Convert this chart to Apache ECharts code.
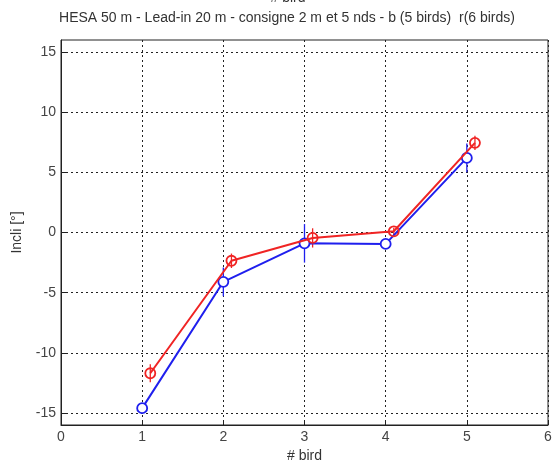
<!DOCTYPE html>
<html>
<head>
<meta charset="utf-8">
<script src="https://cdn.jsdelivr.net/npm/echarts@6/dist/echarts.min.js"></script>
<style>
  html, body { margin: 0; padding: 0; background: #fff; }
  #chart { width: 559px; height: 462px; }
</style>
</head>
<body>
<div id="chart"></div>
<script>
// Bird inclination per bird index, two configurations
var titleText = 'HESA 50 m - Lead-in 20 m - consigne 2 m et 5 nds - b (5 birds)  r(6 birds)';
var xTicks = [0, 1, 2, 3, 4, 5, 6];
var yTicks = [-15, -10, -5, 0, 5, 10, 15];

var blueX = [1, 2, 3, 4, 5];
var blueY = [-14.6, -4.1, -0.9, -0.95, 6.2];
var blueErr = [0.3, 1.2, 1.6, 0.4, 1.2];

var redX = [1.1, 2.1, 3.1, 4.1, 5.1];
var redY = [-11.7, -2.35, -0.45, 0.1, 7.45];
var redErr = [0.75, 0.6, 0.8, 0.3, 0.6];

var BLUE = '#1f1fee';
var RED = '#f02424';
var FONT = 'Liberation Sans';

function pairs(xs, ys) {
  return xs.map(function (x, i) { return [x, ys[i]]; });
}
function errRows(xs, ys, es) {
  return xs.map(function (x, i) { return [x, ys[i] - es[i], ys[i] + es[i]]; });
}
function errorBarSeries(rows, color) {
  return {
    type: 'custom',
    data: rows,
    z: 3,
    renderItem: function (params, api) {
      var lo = api.coord([api.value(0), api.value(1)]);
      var hi = api.coord([api.value(0), api.value(2)]);
      return {
        type: 'line',
        shape: { x1: lo[0], y1: lo[1], x2: hi[0], y2: hi[1] },
        style: { stroke: color, lineWidth: 1.3 }
      };
    }
  };
}

var chart = echarts.init(document.getElementById('chart'), null, { renderer: 'canvas' });
chart.setOption({
  animation: false,
  backgroundColor: '#fff',
  textStyle: { fontFamily: FONT },
  graphic: [
    { type: 'text', x: 288, y: -2, style: { text: '# bird', font: '14px ' + FONT, fill: '#333', align: 'center', verticalAlign: 'middle' } },
    { type: 'text', x: 287, y: 18, style: { text: titleText, font: '14px ' + FONT, fill: '#333', align: 'center', verticalAlign: 'middle' } }
  ],
  grid: {
    left: 61, right: 11, top: 40, bottom: 37,
    outerBoundsMode: 'none',
    show: true, borderColor: '#222', borderWidth: 1
  },
  xAxis: {
    type: 'value', min: 0, max: 6, interval: 1,
    name: '# bird', nameLocation: 'middle', nameGap: 23,
    nameTextStyle: { color: '#333', fontSize: 14, fontFamily: FONT },
    axisLine: { show: true, onZero: false, lineStyle: { color: '#222' } },
    axisTick: { show: true, inside: true, length: 5, lineStyle: { color: '#222' } },
    axisLabel: { color: '#444', fontSize: 14, fontFamily: FONT, margin: 5 },
    splitLine: { show: true, lineStyle: { color: '#222', type: [2, 3], width: 1 } }
  },
  yAxis: {
    type: 'value', min: -16, max: 16,
    name: 'Incli [°]', nameLocation: 'middle', nameGap: 37, nameRotate: 90,
    nameTextStyle: { color: '#333', fontSize: 14, fontFamily: FONT },
    axisLine: { show: true, onZero: false, lineStyle: { color: '#222' } },
    axisTick: { show: true, inside: true, length: 5, customValues: yTicks, lineStyle: { color: '#222' } },
    axisLabel: { color: '#444', fontSize: 14, fontFamily: FONT, margin: 5, customValues: yTicks },
    splitLine: { show: true, lineStyle: { color: '#222', type: [2, 3], width: 1 } }
  },
  series: [
    errorBarSeries(errRows(blueX, blueY, blueErr), BLUE),
    errorBarSeries(errRows(redX, redY, redErr), RED),
    {
      type: 'line', data: pairs(blueX, blueY), z: 4,
      symbol: 'circle', symbolSize: 10, showSymbol: true,
      lineStyle: { color: BLUE, width: 2 },
      itemStyle: { color: '#fff', borderColor: BLUE, borderWidth: 1.8 }
    },
    {
      type: 'line', data: pairs(redX, redY), z: 5,
      symbol: 'circle', symbolSize: 10, showSymbol: true,
      lineStyle: { color: RED, width: 2 },
      itemStyle: { color: 'rgba(255,255,255,0)', borderColor: RED, borderWidth: 1.8 }
    }
  ]
});
</script>
</body>
</html>
